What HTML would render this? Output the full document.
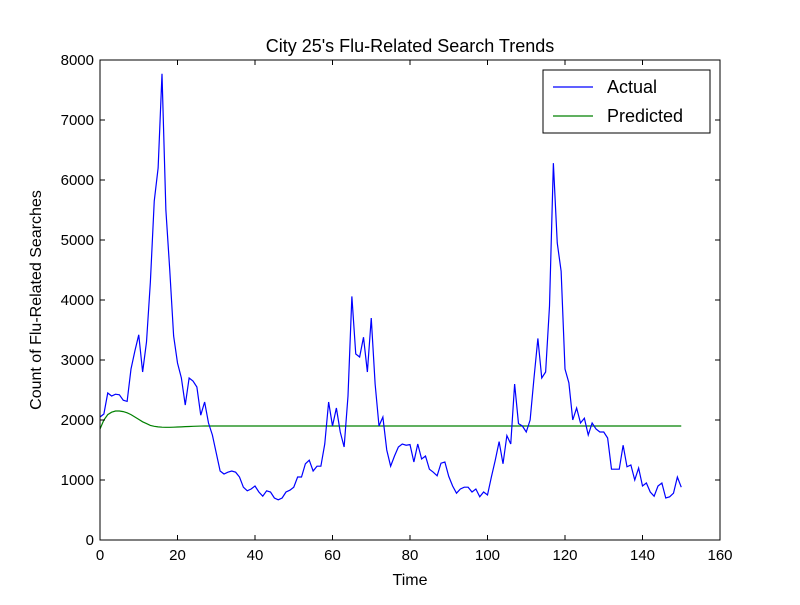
<!DOCTYPE html>
<html><head><meta charset="utf-8"><style>
body{margin:0;background:#fff;}
svg text{font-family:"Liberation Sans",sans-serif;fill:#000;}
</style></head><body>
<svg id="chart" width="800" height="600" xmlns="http://www.w3.org/2000/svg">
<rect width="800" height="600" fill="#fff"/>
<text x="410" y="52" font-size="18" text-anchor="middle">City 25's Flu-Related Search Trends</text>
<g id="plot"></g>
<text x="410" y="585" font-size="16" text-anchor="middle">Time</text>
<text transform="translate(41,300) rotate(-90)" font-size="16" text-anchor="middle">Count of Flu-Related Searches</text>
</svg>
<script>
const actual=[2050,2100,2450,2400,2430,2420,2330,2310,2850,3150,3420,2800,3300,4300,5650,6200,7770,5500,4500,3400,2950,2700,2250,2700,2650,2550,2080,2300,1950,1750,1450,1150,1100,1130,1150,1130,1050,880,820,850,900,800,730,820,800,700,670,700,800,830,880,1050,1050,1270,1330,1150,1230,1230,1600,2300,1900,2200,1800,1550,2400,4060,3100,3050,3380,2800,3700,2600,1900,2050,1500,1230,1400,1550,1600,1580,1590,1300,1600,1350,1400,1180,1130,1070,1280,1300,1060,900,780,850,880,880,800,850,720,800,750,1050,1330,1640,1270,1740,1600,2600,1940,1900,1800,2000,2700,3360,2700,2800,3900,6280,4950,4480,2850,2620,2000,2200,1950,2030,1750,1950,1850,1800,1800,1700,1180,1180,1180,1580,1220,1250,1000,1200,900,950,800,730,900,950,700,720,780,1050,880];
const predicted=[1850,2000,2090,2130,2150,2150,2140,2120,2090,2050,2010,1970,1940,1910,1895,1885,1880,1878,1878,1880,1883,1886,1889,1892,1895,1897,1899,1900,1900,1900,
1900,1900,1900,1900,1900,1900,1900,1900,1900,1900,1900,1900,1900,1900,1900,1900,1900,1900,1900,1900,
1900,1900,1900,1900,1900,1900,1900,1900,1900,1900,1900,1900,1900,1900,1900,1900,1900,1900,1900,1900,
1900,1900,1900,1900,1900,1900,1900,1900,1900,1900,1900,1900,1900,1900,1900,1900,1900,1900,1900,1900,
1900,1900,1900,1900,1900,1900,1900,1900,1900,1900,1900,1900,1900,1900,1900,1900,1900,1900,1900,1900,
1900,1900,1900,1900,1900,1900,1900,1900,1900,1900,1900,1900,1900,1900,1900,1900,1900,1900,1900,1900,
1900,1900,1900,1900,1900,1900,1900,1900,1900,1900,
1900,1900,1900,1900,1900,1900,1900,1900,1900,1900,1900];
const xTicks=[0,20,40,60,80,100,120,140,160];
const yTicks=[0,1000,2000,3000,4000,5000,6000,7000,8000];
const L=100,R=720,T=60,B=540;
const xs=v=>L+(v-0)/160*(R-L);
const ys=v=>B-(v-0)/8000*(B-T);
const NS="http://www.w3.org/2000/svg";
const g=document.getElementById('plot');
function mk(t,a){const e=document.createElementNS(NS,t);for(const k in a)e.setAttribute(k,a[k]);g.appendChild(e);return e;}
function series(arr,color,name){
  const p=mk('polyline',{points:arr.map((v,i)=>xs(i)+','+ys(v)).join(' '),fill:'none',stroke:color,'stroke-width':1.2});
  
  
}
series(predicted,'#008000','predicted-line');
series(actual,'#0000ff','actual-line');
const frame=mk('rect',{x:L,y:T,width:R-L,height:B-T,fill:'none',stroke:'#000','stroke-width':1});


xTicks.forEach(t=>{
  const x=xs(t);
  mk('line',{x1:x,y1:B,x2:x,y2:B-5,stroke:'#000'});
  mk('line',{x1:x,y1:T,x2:x,y2:T+5,stroke:'#000'});
  const lb=mk('text',{x:x,y:B+20,'font-size':15,'text-anchor':'middle'});
  lb.textContent=t;
  
  
});
yTicks.forEach(t=>{
  const y=ys(t);
  mk('line',{x1:L,y1:y,x2:L+5,y2:y,stroke:'#000'});
  mk('line',{x1:R,y1:y,x2:R-5,y2:y,stroke:'#000'});
  const lb=mk('text',{x:L-6,y:y+5,'font-size':15,'text-anchor':'end'});
  lb.textContent=t;
  
  
});
const lg=mk('rect',{x:543,y:70,width:167,height:63,fill:'#fff',stroke:'#000'});


[['Actual','#0000ff',87],['Predicted','#008000',116]].forEach(([n,c,y])=>{
  mk('line',{x1:553,y1:y,x2:593,y2:y,stroke:c,'stroke-width':1.2});
  const t=mk('text',{x:607,y:y+6,'font-size':18});
  t.textContent=n;
  
  
});
</script>
</body></html>
